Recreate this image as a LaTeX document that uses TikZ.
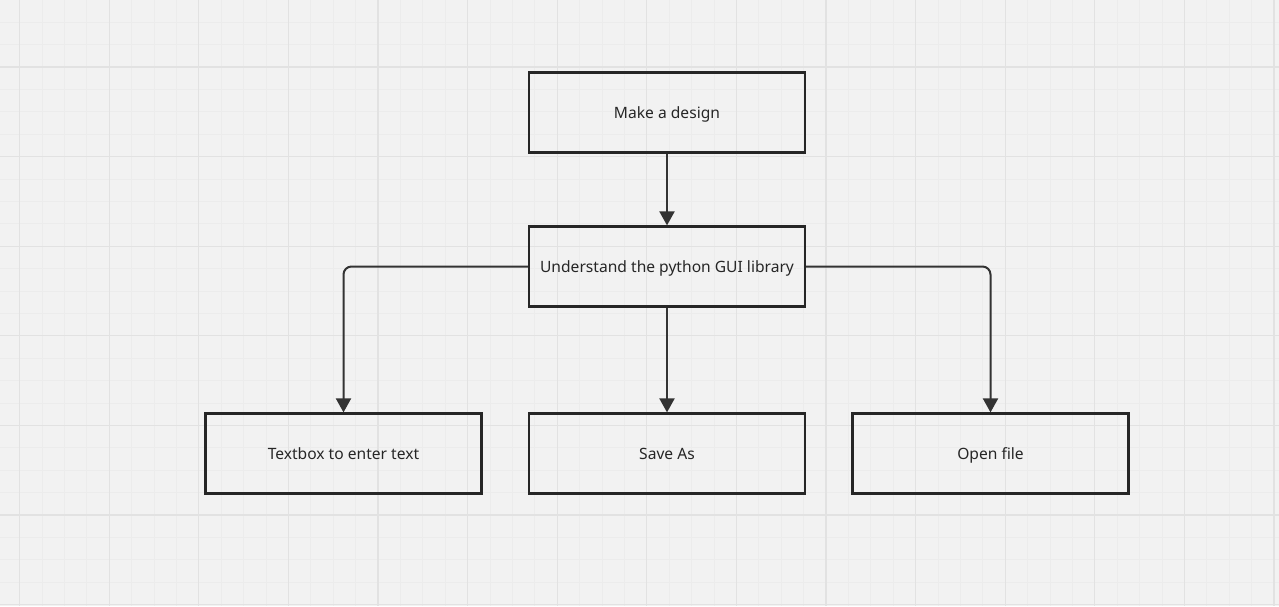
\documentclass[tikz,border=0pt]{standalone}
\usepackage{fontspec}
\setmainfont{Noto Sans}
\usetikzlibrary{arrows.meta}
\definecolor{bg}{HTML}{F2F2F2}
\definecolor{minorgrid}{HTML}{ECECEC}
\definecolor{majorgrid}{HTML}{E2E2E2}
\definecolor{boxline}{HTML}{262626}
\definecolor{arrline}{HTML}{333333}
\tikzset{
  box/.style={draw=boxline, line width=2.2pt, minimum width=276pt, minimum height=80pt, inner sep=0pt, font=\fontsize{15.6}{18}\selectfont, text=black!85, text height=13pt, text depth=1pt},
  conn/.style={draw=arrline, line width=2pt, rounded corners=8pt, -{Triangle[length=14pt,width=15pt]}}
}
\begin{document}
\begin{tikzpicture}[x=1pt,y=-1pt]
\fill[bg] (0,0) rectangle (1279,606);
\useasboundingbox (0,0) rectangle (1279,606);
\foreach \k in {0,...,58} {
  \draw[minorgrid, line width=0.8pt] ({-2.9+22.4*\k},0) -- ({-2.9+22.4*\k},606);
}
\foreach \k in {0,...,28} {
  \draw[minorgrid, line width=0.8pt] (0,{-0.2+22.4*\k}) -- (1279,{-0.2+22.4*\k});
}
\foreach \k in {0,...,14} {
  \draw[majorgrid, line width=1.2pt] ({19.5+89.6*\k},0) -- ({19.5+89.6*\k},606);
}
\foreach \k in {-1,...,6} {
  \draw[majorgrid, line width=1.2pt] (0,{67+89.6*\k}) -- (1279,{67+89.6*\k});
}
\node[box] (design) at (667,112.5) {Make a design};
\node[box] (lib) at (667,266.5) {Understand the python GUI library};
\node[box] (textbox) at (343.5,453.5) {Textbox to enter text};
\node[box] (save) at (667,453.5) {Save As};
\node[box] (open) at (990.5,453.5) {Open file};
\draw[conn] (design.south) -- (lib.north);
\draw[conn] (lib.south) -- (save.north);
\draw[conn] (lib.west) -| (textbox.north);
\draw[conn] (lib.east) -| (open.north);
\end{tikzpicture}
\end{document}
